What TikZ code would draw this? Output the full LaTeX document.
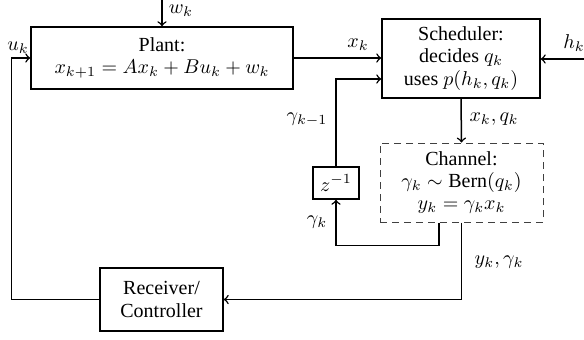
\documentclass[tikz,border=0pt]{standalone}
\usepackage{amsmath}
\usepackage[no-math]{fontspec}
\setmainfont{Liberation Serif}
\usetikzlibrary{calc}
\begin{document}
\begin{tikzpicture}[x=0.5pt,y=-0.5pt,
  font=\fontsize{10}{11.2}\selectfont,
  blk/.style={draw,line width=0.75pt,align=center,inner sep=0pt},
  conn/.style={line width=0.75pt},
  arr/.style={conn,->},
  lbl/.style={inner sep=0pt}]
\path[use as bounding box] (0,0) rectangle (584,339);
\node[blk,minimum width=131pt,minimum height=31pt] (plant) at (162,58) {Plant:\\ $x_{k+1} = Ax_k + Bu_k + w_k$};
\node[blk,minimum width=79pt,minimum height=39.5pt] (sched) at (461,58.5) {Scheduler:\\ decides $q_k$\\ uses $p(h_k,q_k)$};
\node[blk,draw=black!75,line width=0.5pt,dash pattern=on 3.5pt off 2.5pt,minimum width=81.5pt,minimum height=39.5pt] (chan) at (461.5,182.5) {Channel:\\ $\gamma_k \sim \text{Bern}(q_k)$\\ $y_k = \gamma_k x_k$};
\node[blk,minimum width=23pt,minimum height=16pt] (z) at (336,183) {$z^{-1}$};
\node[blk,minimum width=61.5pt,minimum height=31.5pt] (rec) at (161.5,299.5) {Receiver/\\ Controller};
\coordinate (wtop) at (162,0);
\coordinate (hin) at (584,59);
\draw[arr] (wtop) -- (plant.north);
\draw[arr] (plant.east) -- (plant.east -| sched.west);
\draw[arr] (hin) -- (hin -| sched.east);
\coordinate (zin) at ($(sched.west)+(0,20.5)$);
\draw[arr] (z.north) |- (zin);
\draw[arr] (sched.south) -- (chan.north);
\coordinate (gout) at ($(chan.south)+(-22.5,0)$);
\draw[arr] (gout) -- ++(0,23) -| (z.south);
\draw[arr] (chan.south) |- (rec.east);
\coordinate (uout) at ($(plant.west)+(-19,0)$);
\draw[arr] (rec.west) -| (uout) -- (plant.west);
\node[lbl] (wl) at (181,11) {$w_k$};
\node[lbl] (ul) at (18,48) {$u_k$};
\node[lbl] (xl) at (358,45) {$x_k$};
\node[lbl] (hl) at (574,43) {$h_k$};
\node[lbl] (gl1) at (307,120) {$\gamma_{k-1}$};
\node[lbl] (xql) at (494,119) {$x_k, q_k$};
\node[lbl] (gl) at (317,222) {$\gamma_k$};
\node[lbl] (ygl) at (499,262) {$y_k, \gamma_k$};
\end{tikzpicture}
\end{document}
